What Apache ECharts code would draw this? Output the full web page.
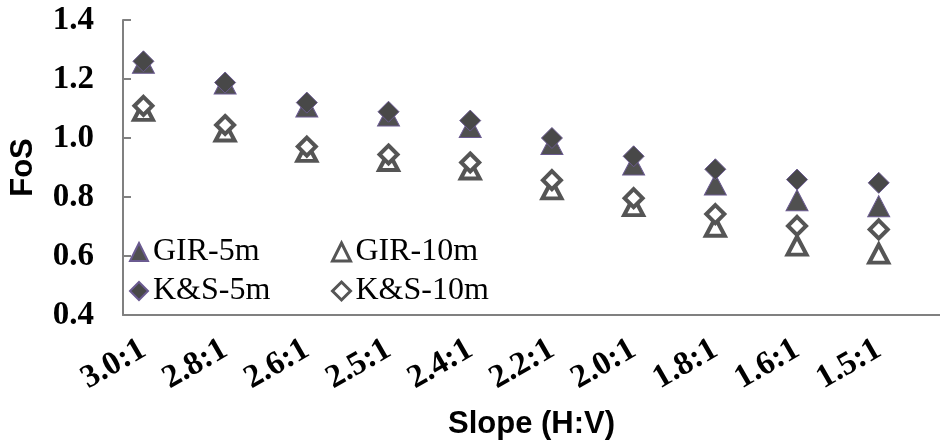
<!DOCTYPE html>
<html>
<head>
<meta charset="utf-8">
<script src="https://cdn.jsdelivr.net/npm/echarts@6/dist/echarts.min.js"></script>
<style>
html, body { margin: 0; padding: 0; background: #fff; }
#main { width: 940px; height: 445px; }
</style>
</head>
<body>
<div id="main"></div>
<script>
var slopes = ['3.0:1', '2.8:1', '2.6:1', '2.5:1', '2.4:1', '2.2:1', '2.0:1', '1.8:1', '1.6:1', '1.5:1'];
var gir5 = [1.255, 1.185, 1.107, 1.076, 1.037, 0.98, 0.91, 0.842, 0.789, 0.769];
var gir10 = [1.092, 1.022, 0.953, 0.922, 0.893, 0.826, 0.769, 0.699, 0.635, 0.608];
var ks5 = [1.26, 1.188, 1.12, 1.089, 1.059, 1.0, 0.938, 0.894, 0.859, 0.848];
var ks10 = [1.109, 1.044, 0.971, 0.944, 0.917, 0.857, 0.796, 0.742, 0.702, 0.69];
var yTicks = [0.4, 0.6, 0.8, 1.0, 1.2, 1.4];

// each slope takes two tick intervals on the axis, the point sits in the first one
var cats = [];
slopes.forEach(function (s) { cats.push(s); cats.push(''); });

function pts(vals) {
    return vals.map(function (v, i) { return [i * 2, v]; });
}

var myChart = echarts.init(document.getElementById('main'));

var grey = '#808080';
var serif = 'Liberation Serif';

var option = {
    animation: false,
    grid: { left: 118, top: 20, bottom: 127, right: -6 },
    legend: [
        { data: ['GIR-5m'], left: 124, top: 231 },
        { data: ['GIR-10m'], left: 326, top: 231, itemStyle: { borderWidth: 3 } },
        { data: ['K&S-5m'], left: 124, top: 270 },
        { data: ['K&S-10m'], left: 326, top: 270, itemStyle: { borderWidth: 3 } }
    ].map(function (l) {
        l.itemWidth = 18;
        l.itemHeight = 18;
        l.itemGap = 0;
        l.textStyle = { fontFamily: serif, fontSize: 32, color: '#000' };
        return l;
    }),
    xAxis: {
        type: 'category',
        data: cats,
        boundaryGap: true,
        name: 'Slope (H:V)',
        nameLocation: 'middle',
        nameGap: 94,
        nameTextStyle: { fontFamily: 'Liberation Sans', fontWeight: 'bold', fontSize: 31, color: '#000' },
        axisLine: { lineStyle: { color: grey, width: 2 } },
        axisTick: { inside: true, length: 7, interval: 0, lineStyle: { color: grey, width: 2 } },
        axisLabel: {
            interval: 0,
            rotate: 30,
            margin: 32,
            fontFamily: serif,
            fontWeight: 'bold',
            fontSize: 33,
            color: '#000'
        },
        splitLine: { show: false }
    },
    yAxis: {
        type: 'value',
        min: yTicks[0],
        max: yTicks[yTicks.length - 1],
        interval: 0.2,
        name: 'FoS',
        nameLocation: 'middle',
        nameGap: 84,
        nameRotate: 90,
        nameTextStyle: { fontFamily: 'Liberation Sans', fontWeight: 'bold', fontSize: 31, color: '#000' },
        axisLine: { show: true, lineStyle: { color: grey, width: 2 } },
        axisTick: { show: true, inside: true, length: 8, lineStyle: { color: grey, width: 2 } },
        axisLabel: {
            margin: 29,
            fontFamily: serif,
            fontWeight: 'bold',
            fontSize: 33,
            color: '#000',
            formatter: function (v) { return v.toFixed(1); }
        },
        splitLine: { show: false }
    },
    series: [
        {
            name: 'GIR-5m', type: 'scatter', symbol: 'triangle', symbolSize: [22, 21],
            itemStyle: { color: '#505050', borderColor: '#6a5a90', borderWidth: 1, opacity: 1 },
            data: pts(gir5)
        },
        {
            name: 'GIR-10m', type: 'scatter', symbol: 'triangle', symbolSize: [19, 18],
            itemStyle: { color: '#fff', borderColor: '#555', borderWidth: 4, opacity: 1 },
            data: pts(gir10)
        },
        {
            name: 'K&S-5m', type: 'scatter', symbol: 'diamond', symbolSize: [21, 21],
            itemStyle: { color: '#484848', borderColor: '#6a5a90', borderWidth: 1, opacity: 1 },
            data: pts(ks5)
        },
        {
            name: 'K&S-10m', type: 'scatter', symbol: 'diamond', symbolSize: [18, 18],
            itemStyle: { color: '#fff', borderColor: '#555', borderWidth: 4, opacity: 1 },
            data: pts(ks10)
        }
    ]
};

myChart.setOption(option);
</script>
</body>
</html>
